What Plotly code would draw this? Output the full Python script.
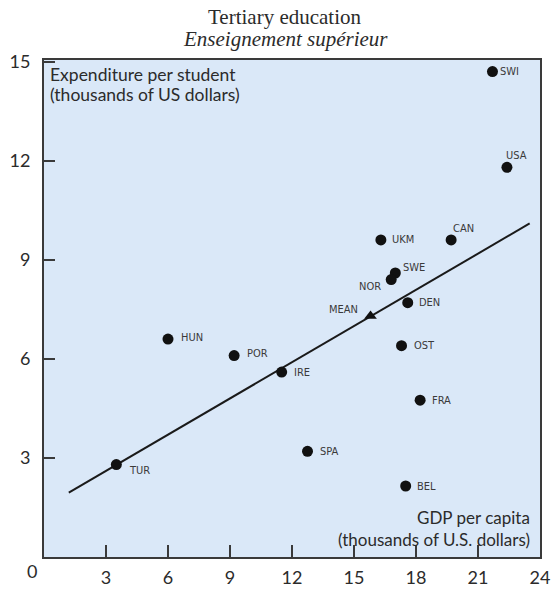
import plotly.graph_objects as go

# ---- data ----
countries = ["SWI", "USA", "CAN", "UKM", "SWE", "NOR", "DEN", "OST", "FRA", "BEL",
             "HUN", "POR", "IRE", "SPA", "TUR"]
gdp = [21.7, 22.4, 19.7, 16.3, 17.0, 16.8, 17.6, 17.3, 18.2, 17.5,
       6.0, 9.2, 11.5, 12.75, 3.5]
spend = [14.7, 11.8, 9.6, 9.6, 8.6, 8.4, 7.7, 6.4, 4.75, 2.15,
         6.6, 6.1, 5.6, 3.2, 2.8]
mean_x = [15.8]
mean_y = [7.3]
line_x = [1.2, 23.5]
line_y = [1.95, 10.1]
x_ticks = [3, 6, 9, 12, 15, 18, 21, 24]
y_ticks = [3, 6, 9, 12, 15]

# label offsets (pixels) and anchors
label_pos = {
    "SWI": (6, 0, "left"), "USA": (10, 12, "center"), "CAN": (12, 11, "center"),
    "UKM": (9, 0, "left"), "SWE": (6, 6, "left"), "NOR": (-8, -7, "right"),
    "DEN": (9, 0, "left"), "OST": (10, 0, "left"), "FRA": (10, 0, "left"),
    "BEL": (9, 0, "left"), "HUN": (11, 2, "left"), "POR": (11, 2, "left"),
    "IRE": (10, 0, "left"), "SPA": (10, 0, "left"), "TUR": (11, -6, "left"),
}

SANS = "Lato, DejaVu Sans, sans-serif"
LBL = "DejaVu Sans Condensed, DejaVu Sans, sans-serif"
INK = "#2b2b2b"

W, H, L, R, T, B = 556, 589, 44, 16, 60, 32
pw, ph = W - L - R, H - T - B

def px_to_paper_y(py):
    return (H - B - py) / ph

def px_to_paper_x(px):
    return (px - L) / pw

fig = go.Figure()
fig.add_trace(go.Scatter(x=line_x, y=line_y, mode="lines",
                         line=dict(color="#1a1a1a", width=2), hoverinfo="skip"))
fig.add_trace(go.Scatter(x=gdp, y=spend, mode="markers",
                         marker=dict(color="#111111", size=11), hoverinfo="skip"))
fig.add_trace(go.Scatter(x=mean_x, y=mean_y, mode="markers",
                         marker=dict(color="#111111", size=11, symbol="triangle-up"),
                         hoverinfo="skip"))

ann = []
for c, x, y in zip(countries, gdp, spend):
    dx, dy, anc = label_pos[c]
    ann.append(dict(x=x, y=y, xref="x", yref="y", text=c, showarrow=False,
                    xshift=dx, yshift=dy, xanchor=anc, yanchor="middle",
                    font=dict(family=LBL, size=11, color="#3a3a3a")))
ann.append(dict(x=mean_x[0], y=mean_y[0], xref="x", yref="y", text="MEAN",
                showarrow=False, xshift=-11, yshift=6, xanchor="right",
                yanchor="middle", font=dict(family=LBL, size=11, color="#3a3a3a")))

# titles
ann.append(dict(x=px_to_paper_x(285), y=px_to_paper_y(17), xref="paper", yref="paper",
                text="Tertiary education", showarrow=False, xanchor="center",
                yanchor="middle",
                font=dict(family="Liberation Serif, serif", size=21, color=INK)))
ann.append(dict(x=px_to_paper_x(285), y=px_to_paper_y(39), xref="paper", yref="paper",
                text="<i>Enseignement supérieur</i>", showarrow=False,
                xanchor="center", yanchor="middle",
                font=dict(family="Liberation Serif, serif", size=21, color=INK)))

# axis titles inside the frame
for txt, py in [("Expenditure per student", 75), ("(thousands of US dollars)", 94)]:
    ann.append(dict(x=px_to_paper_x(48), y=px_to_paper_y(py), xref="paper", yref="paper",
                    text=txt, showarrow=False, xanchor="left", yanchor="middle",
                    font=dict(family=SANS, size=17.5, color=INK)))
for txt, py in [("GDP per capita", 517), ("(thousands of U.S. dollars)", 539)]:
    ann.append(dict(x=px_to_paper_x(532), y=px_to_paper_y(py), xref="paper", yref="paper",
                    text=txt, showarrow=False, xanchor="right", yanchor="middle",
                    font=dict(family=SANS, size=17, color=INK)))
# corner zero
ann.append(dict(x=px_to_paper_x(32), y=px_to_paper_y(571), xref="paper", yref="paper",
                text="0", showarrow=False, xanchor="center", yanchor="middle",
                font=dict(family=SANS, size=18, color=INK)))

fig.update_layout(
    width=W, height=H,
    margin=dict(l=L, r=R, t=T, b=B),
    paper_bgcolor="white", plot_bgcolor="#dae8f8",
    showlegend=False,
    annotations=ann,
    xaxis=dict(range=[0, 24], tickvals=x_ticks, ticks="inside", ticklen=12,
               tickwidth=2, tickcolor="#3a3a3a", showgrid=False, zeroline=False,
               showline=True, linecolor="#3a3a3a", linewidth=2, mirror=True,
               automargin=False,
               tickfont=dict(family=SANS, size=18, color=INK), ticklabelstandoff=3),
    yaxis=dict(range=[0, 15.05], tickvals=y_ticks, ticks="inside", ticklen=11,
               tickwidth=2, tickcolor="#3a3a3a", showgrid=False, zeroline=False,
               showline=True, linecolor="#3a3a3a", linewidth=2, mirror=True,
               automargin=False,
               tickfont=dict(family=SANS, size=18, color=INK), ticklabelstandoff=8),
)

fig.write_html("out.html",
               config={"displayModeBar": False},
               post_script="document.body.style.margin='0';"
                           "document.body.style.overflow='hidden';")
